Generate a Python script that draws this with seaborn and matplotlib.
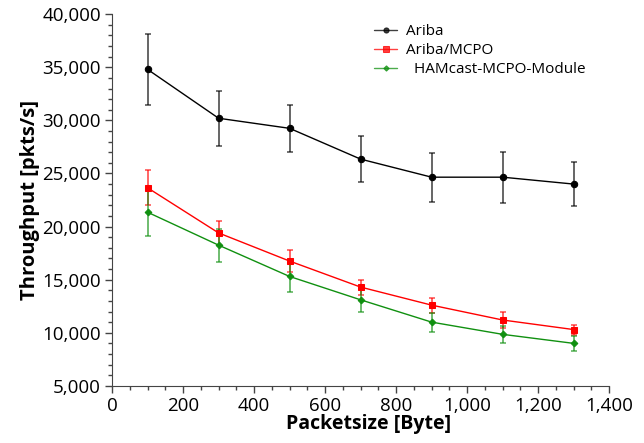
import numpy as np
import pandas as pd
import matplotlib
matplotlib.use("Agg")
import matplotlib.pyplot as plt
import seaborn as sns
from matplotlib.ticker import FuncFormatter, MultipleLocator

# packet sizes (Byte)
packetsize = [100, 300, 500, 700, 900, 1100, 1300]

# throughput in pkts/s
ariba = [34800, 30200, 29250, 26350, 24650, 24650, 24000]
ariba_err = [3350, 2600, 2200, 2150, 2300, 2400, 2070]

ariba_mcpo = [23650, 19400, 16750, 14300, 12600, 11200, 10300]
ariba_mcpo_err = [1650, 1100, 1050, 700, 700, 720, 470]

hamcast = [21350, 18250, 15300, 13100, 11000, 9850, 9000]
hamcast_err = [2250, 1550, 1450, 1150, 900, 800, 700]

labels = ["Ariba", "Ariba/MCPO", "  HAMcast-MCPO-Module"]
colors = ["black", "#ff0000", "#109010"]
markers = ["o", "s", "D"]
msizes = [4.6, 4.6, 3.4]

sns.set_style("ticks")
plt.rcParams["font.family"] = ["Open Sans", "DejaVu Sans"]
plt.rcParams["text.color"] = "black"
plt.rcParams["axes.labelcolor"] = "black"

df = pd.DataFrame({
    "size": packetsize * 3,
    "tp": ariba + ariba_mcpo + hamcast,
    "err": ariba_err + ariba_mcpo_err + hamcast_err,
    "series": [l for l in labels for _ in packetsize],
})

fig = plt.figure(figsize=(6.44, 4.43), dpi=100)
ax = fig.add_axes([0.174, 0.129, 0.772, 0.839])

for lab, col, mk, ms in zip(labels, colors, markers, msizes):
    sub = df[df["series"] == lab]
    ax.errorbar(sub["size"], sub["tp"], yerr=sub["err"], fmt="none",
                ecolor=col, elinewidth=1.3, capsize=2.5, capthick=1.2,
                alpha=0.65, zorder=2)
    sns.lineplot(data=sub, x="size", y="tp", color=col, marker=mk,
                 markersize=ms, markeredgecolor=col, linewidth=1.0,
                 label=lab, ax=ax, zorder=3)

ax.set_xlim(0, 1400)
ax.set_ylim(5000, 40000)
ax.xaxis.set_major_locator(MultipleLocator(200))
ax.xaxis.set_minor_locator(MultipleLocator(50))
ax.yaxis.set_major_locator(MultipleLocator(5000))
ax.yaxis.set_minor_locator(MultipleLocator(1000))
fmt = FuncFormatter(lambda v, p: f"{int(v):,}")
ax.xaxis.set_major_formatter(fmt)
ax.yaxis.set_major_formatter(fmt)
ax.tick_params(which="major", length=5, width=1, labelsize=13.5,
               color="#444444", labelcolor="black", pad=3)
ax.tick_params(which="minor", length=3, width=1, color="#444444")
sns.despine(ax=ax)
ax.spines["left"].set_color("#444444")
ax.spines["bottom"].set_color("#444444")

ax.set_xlabel("Packetsize [Byte]", fontsize=14, fontweight="bold", labelpad=2)
ax.xaxis.set_label_coords(0.515, -0.075)
ax.set_ylabel("Throughput [pkts/s]", fontsize=14.5, fontweight="bold", labelpad=2)

leg = ax.legend(loc="upper left", bbox_to_anchor=(0.5, 1.01), frameon=False,
                fontsize=11, handlelength=1.5, handletextpad=0.6,
                labelspacing=0.25, markerscale=0.8)
for h in leg.legend_handles:
    h.set_alpha(0.75)

fig.savefig("out.png", dpi=100)
plt.close(fig)
